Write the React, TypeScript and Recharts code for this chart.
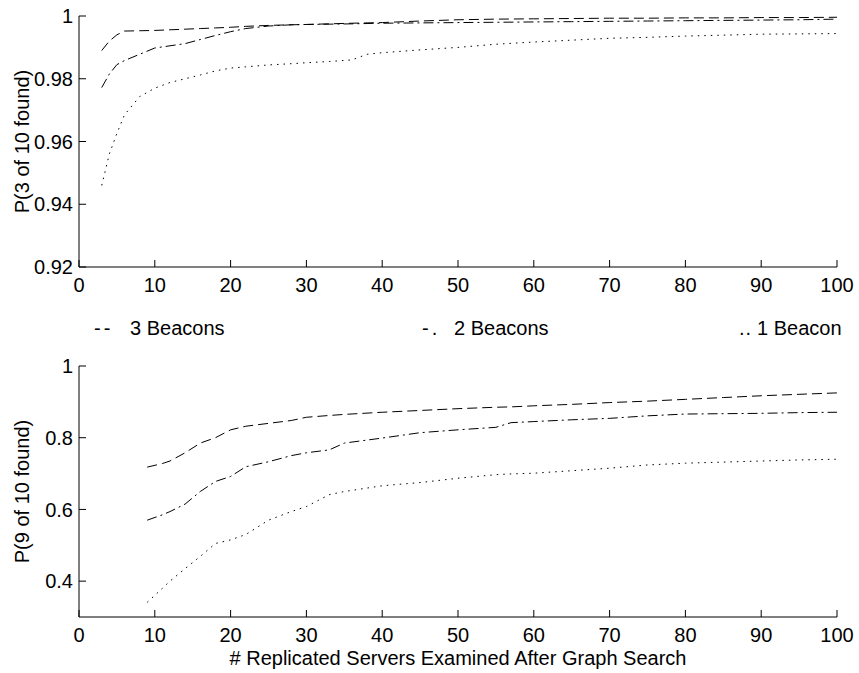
import React from 'react';
import { LineChart, Line, XAxis, YAxis, Label } from 'recharts';

const xTicks = [0, 10, 20, 30, 40, 50, 60, 70, 80, 90, 100];
const topYTicks = [0.92, 0.94, 0.96, 0.98, 1];
const bottomYTicks = [0.4, 0.6, 0.8, 1];

// top panel: P(3 of 10 found)
const topX = [3, 4, 5, 6, 8, 10, 12, 14, 16, 18, 20, 22, 25, 28, 30, 33, 36, 38, 40, 45, 50, 55, 60, 65, 70, 75, 80, 85, 90, 95, 100];
const top3 = [0.989, 0.992, 0.994, 0.9952, 0.9953, 0.9954, 0.9956, 0.9958, 0.996, 0.9962, 0.9964, 0.9967, 0.997, 0.9972, 0.9973, 0.9975, 0.9977, 0.9978, 0.9979, 0.9984, 0.9988, 0.999, 0.9991, 0.9992, 0.9993, 0.9993, 0.9994, 0.9994, 0.9995, 0.9995, 0.9996];
const top2 = [0.9772, 0.9815, 0.9845, 0.9858, 0.9878, 0.9898, 0.9905, 0.9912, 0.9925, 0.9938, 0.995, 0.996, 0.9968, 0.9972, 0.9973, 0.9974, 0.9975, 0.9976, 0.9977, 0.9978, 0.9979, 0.998, 0.9981, 0.9982, 0.9983, 0.9984, 0.9985, 0.9986, 0.9987, 0.9988, 0.999];
const top1 = [0.946, 0.956, 0.9626, 0.9685, 0.9743, 0.977, 0.9788, 0.98, 0.9812, 0.9825, 0.9834, 0.9838, 0.9844, 0.9848, 0.9851, 0.9855, 0.986, 0.9878, 0.9883, 0.9892, 0.99, 0.991, 0.9917, 0.9923, 0.9929, 0.9932, 0.9936, 0.9939, 0.9942, 0.9943, 0.9944];

// bottom panel: P(9 of 10 found)
const bottomX = [9, 11, 12, 14, 16, 18, 20, 22, 25, 28, 30, 33, 35, 40, 45, 50, 55, 57, 60, 65, 70, 75, 80, 85, 90, 95, 100];
const bottom3 = [0.718, 0.728, 0.735, 0.758, 0.785, 0.8, 0.822, 0.832, 0.84, 0.848, 0.857, 0.862, 0.865, 0.871, 0.876, 0.881, 0.885, 0.886, 0.889, 0.893, 0.898, 0.902, 0.907, 0.912, 0.917, 0.921, 0.925];
const bottom2 = [0.57, 0.585, 0.594, 0.615, 0.65, 0.678, 0.692, 0.719, 0.733, 0.75, 0.758, 0.766, 0.785, 0.799, 0.814, 0.822, 0.829, 0.842, 0.845, 0.85, 0.854, 0.861, 0.866, 0.867, 0.868, 0.87, 0.871];
const bottom1 = [0.341, 0.38, 0.4, 0.435, 0.469, 0.505, 0.515, 0.53, 0.57, 0.594, 0.608, 0.641, 0.65, 0.666, 0.675, 0.687, 0.697, 0.699, 0.701, 0.708, 0.715, 0.724, 0.729, 0.732, 0.735, 0.738, 0.74];

const legendMarks = ['--', '-.', '..'];
const legendLabels = ['3 Beacons', '2 Beacons', '1 Beacon'];

const makeRows = (xs: number[], a: number[], b: number[], c: number[]) =>
  xs.map((x, i) => ({ x, b3: a[i], b2: b[i], b1: c[i] }));

const topRows = makeRows(topX, top3, top2, top1);
const bottomRows = makeRows(bottomX, bottom3, bottom2, bottom1);

const series = [
  { key: 'b3', dash: '10 5' },
  { key: 'b2', dash: '10 4 2 4' },
  { key: 'b1', dash: '1.5 5' },
];

const FONT = '"Liberation Sans", Arial, Helvetica, sans-serif';
const tickStyle = { fill: '#000', fontSize: 20, fontFamily: FONT };
const fmt = (v: number) => `${+v.toFixed(2)}`;

const YTitle = (props: any) => {
  const { viewBox, value } = props;
  const cx = 22;
  const cy = viewBox.y + viewBox.height / 2;
  return (
    <text
      x={cx}
      y={cy}
      transform={`rotate(-90 ${cx} ${cy})`}
      textAnchor="middle"
      dominantBaseline="central"
      fill="#000"
      fontSize={20}
      fontFamily={FONT}
    >
      {value}
    </text>
  );
};

const Panel = ({ rows, yTicks, yDomain, yTitle, xTitle, height, xAxisHeight }: any) => (
  <LineChart width={859} height={height} data={rows} margin={{ top: 16, right: 22, left: 0, bottom: 0 }}>
    <XAxis
      dataKey="x"
      type="number"
      domain={[0, 100]}
      ticks={xTicks}
      height={xAxisHeight}
      tickSize={-7}
      tickMargin={18}
      tick={tickStyle}
      stroke="#000"
      interval={0}
    >
      {xTitle && (
        <Label value={xTitle} position="insideBottom" offset={8} fill="#000" fontSize={20} fontFamily={FONT} />
      )}
    </XAxis>
    <YAxis
      type="number"
      domain={yDomain}
      ticks={yTicks}
      width={79}
      tickSize={-7}
      tickMargin={13}
      tick={tickStyle}
      tickFormatter={fmt}
      stroke="#000"
      interval={0}
    >
      <Label value={yTitle} content={<YTitle value={yTitle} />} />
    </YAxis>
    {series.map((s) => (
      <Line
        key={s.key}
        type="linear"
        dataKey={s.key}
        stroke="#000"
        strokeWidth={1}
        strokeDasharray={s.dash}
        dot={false}
        activeDot={false}
        isAnimationActive={false}
      />
    ))}
  </LineChart>
);

export default function App() {
  const markLeft = [94, 422, 739];
  const markSpacing = [3, 3, 1];
  const labelLeft = [130, 454, 757];
  return (
    <div style={{ position: 'absolute', left: 0, top: 0, width: 859, height: 673, background: '#fff', fontFamily: FONT }}>
      <div style={{ position: 'absolute', left: 0, top: 0 }}>
        <Panel rows={topRows} yTicks={topYTicks} yDomain={[0.92, 1]} yTitle="P(3 of 10 found)" height={300} xAxisHeight={33} />
      </div>
      {legendLabels.map((t, i) => (
        <React.Fragment key={t}>
          <div style={{ position: 'absolute', left: markLeft[i], top: 316, fontSize: 20, lineHeight: '24px', letterSpacing: markSpacing[i], color: '#000' }}>
            {legendMarks[i]}
          </div>
          <div style={{ position: 'absolute', left: labelLeft[i], top: 316, fontSize: 20, lineHeight: '24px', color: '#000', whiteSpace: 'pre' }}>
            {t}
          </div>
        </React.Fragment>
      ))}
      <div style={{ position: 'absolute', left: 0, top: 350 }}>
        <Panel
          rows={bottomRows}
          yTicks={bottomYTicks}
          yDomain={[0.3, 1]}
          yTitle="P(9 of 10 found)"
          xTitle="# Replicated Servers Examined After Graph Search"
          height={323}
          xAxisHeight={56}
        />
      </div>
    </div>
  );
}
